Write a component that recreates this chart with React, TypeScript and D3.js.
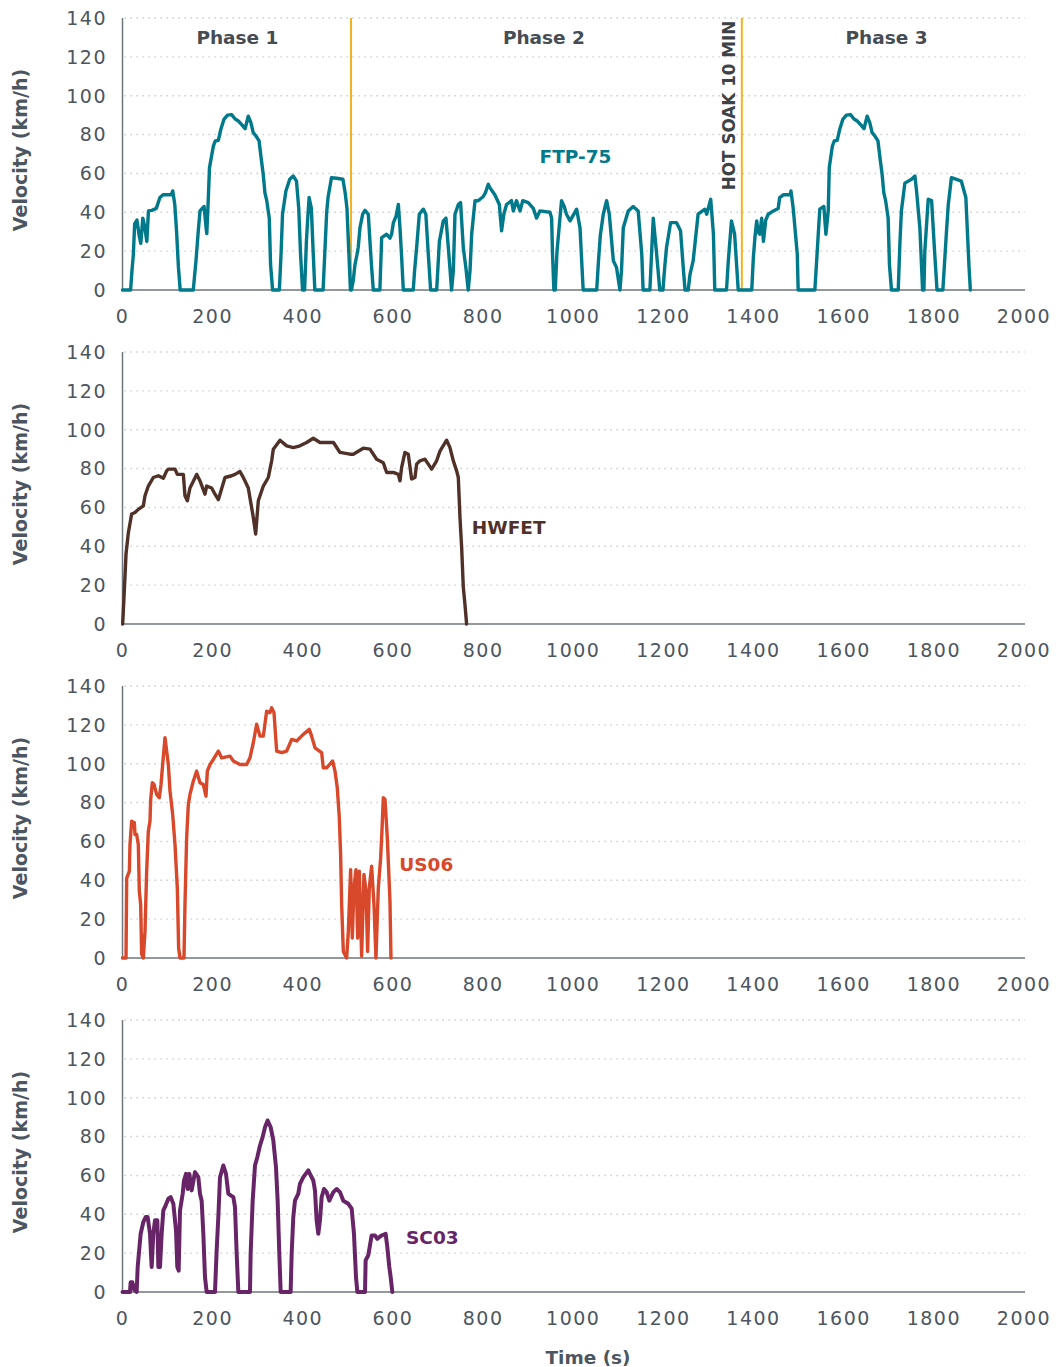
import { useEffect, useRef } from 'react'
import * as d3 from 'd3'

// time (s), velocity (km/h) pairs
const ftpPhase1: [number, number][] = [
  [0, 0], [18, 0], [21, 10], [24, 18], [27, 34], [32, 36], [37, 28], [40.6, 24], [45, 37], [49, 33], [54, 25],
  [57.6, 40.7], [65, 41], [75, 42], [83, 47.6], [90, 49], [100, 49], [108, 49], [111.5, 51], [116, 44],
  [120, 30], [124, 12], [128, 0], [157, 0], [163, 15], [168, 30], [172, 40.7], [177, 42], [181, 43],
  [185, 33], [187, 29], [190, 45], [193, 63], [201.5, 74], [206, 76.7], [212.6, 77], [218, 82.6],
  [225, 87.8], [233, 90], [242, 90.3], [250, 88], [257, 87], [265, 85], [272, 83], [279, 89.5], [285, 86],
  [290, 81], [297, 79], [303, 76.7], [308.6, 66], [312, 60], [316, 50], [320, 46], [325.6, 37],
  [328.5, 13], [333, 0], [348, 0], [352, 20], [355, 39], [362.5, 51], [371, 57], [378.7, 58.7], [386, 56],
  [391, 42], [395, 18.5], [399.4, 0], [404, 0], [408, 25], [411, 37], [414, 47.6], [419, 42], [422, 25],
  [426.7, 0], [445, 0], [449, 20], [453, 40], [456, 47.6], [463.6, 57.8], [475, 57.5], [489, 57],
  [494, 50], [498, 42], [502, 20], [505.7, 0],
]

const ftpPhase2: [number, number][] = [
  [508, 0], [512, 5], [515.7, 13], [520, 18], [523, 22], [526.8, 32], [532.8, 39], [538, 41], [545.3, 39],
  [549, 25], [552.7, 11.6], [556.4, 0], [571, 0], [575, 27], [586, 28.7], [593.4, 26.7], [597, 28.7],
  [601, 34.7], [607, 38], [612, 44], [615.6, 32], [619.3, 16.8], [623, 0], [645, 0], [648, 10],
  [652.6, 22], [658.5, 39], [667.4, 41.6], [673, 39], [678.4, 18.5], [683.6, 0], [697, 0], [703, 25],
  [711.7, 35.6], [717.6, 37], [722.8, 22], [726.5, 11], [730, 0], [734, 10], [737.6, 39], [745, 44],
  [750, 45], [756, 22], [762, 11], [767, 0], [771, 10], [774.6, 28.7], [782, 45.9], [789, 45.9],
  [793, 46.7], [800, 48], [805, 50], [811.5, 54.4], [815, 52.7], [826, 49], [836, 44], [841, 30.5],
  [846, 39], [852, 44], [863, 46], [867, 40.7], [874, 46], [882, 40.7], [888, 46], [900, 45],
  [911.4, 42], [918.7, 37], [926, 40.7], [948.3, 40], [952, 37], [954, 18.5], [957, 0], [960, 0],
  [964, 20], [974, 46], [980, 43], [985, 39], [993, 35.6], [1007.5, 41.6], [1015, 32], [1022, 0],
  [1052, 0], [1056, 15], [1060, 28], [1066.6, 39], [1074, 46], [1080, 39], [1089, 15], [1096, 11.6],
  [1103.6, 0], [1107, 10], [1111, 32], [1122, 40.7], [1133, 43], [1144, 40.7], [1152, 18.5], [1155, 0],
  [1170, 0], [1174, 20], [1177.5, 37], [1185, 18.5], [1192, 0], [1199, 0], [1203, 12], [1207, 22],
  [1216, 34.7], [1229, 34.7], [1238, 30.5], [1244, 11.6], [1248, 0], [1255, 0], [1259, 8], [1266, 15],
  [1277, 39], [1292, 41.6], [1296, 39], [1305, 46.7], [1311, 28.7], [1314, 0], [1340, 0], [1344, 15],
  [1351, 35.6], [1358, 28.7], [1366, 0], [1372, 0],
]

const ftpPhase3: [number, number][] = [
  [1396, 0], [1399.6, 16.8], [1403, 27], [1407, 35.6], [1410, 30], [1414, 28.7], [1418, 37], [1422, 25],
  [1427, 36], [1432.6, 39], [1444, 40.7], [1454.7, 42], [1458, 47.6], [1466, 49], [1481, 49], [1483, 51],
  [1488, 42], [1497, 18.5], [1499, 0], [1536, 0], [1540, 15], [1543.5, 28.7], [1547, 41.6], [1556, 43],
  [1560.5, 28.7], [1565.7, 40.7], [1568, 63], [1574.8, 74], [1579, 76.7], [1585.6, 77], [1591, 82.6],
  [1598, 87.8], [1606, 90], [1615, 90.3], [1623, 88], [1630, 87], [1638, 85], [1645, 83], [1652, 89.5],
  [1658, 86], [1663, 81], [1670, 79], [1676, 76.7], [1681.6, 66], [1685, 60], [1689, 50], [1693, 46],
  [1698.6, 37], [1701.5, 13], [1706, 0], [1721, 0], [1724.6, 23.6],
  [1728, 40.7], [1735.7, 55], [1750.5, 57], [1758, 58.7], [1761.6, 51], [1769, 32], [1775, 0],
  [1778, 0], [1780, 20], [1787.5, 46.7], [1795, 46], [1802, 18.5], [1807, 0], [1820, 0], [1824, 15],
  [1828, 30], [1832, 44], [1839, 57.8], [1861, 56], [1871, 47.6], [1878, 12], [1881, 0],
]

const hwfet: [number, number][] = [
  [0, 0], [0.4, 0], [3.3, 13.7], [7.8, 36], [13, 47], [20.3, 56.6], [27.7, 57.4], [35.1, 59], [46.2, 60.8],
  [49.9, 66], [57.3, 71], [68.4, 75.4], [79.5, 76.3], [90.6, 75], [98, 78.8], [101.7, 79.7], [116.5, 79.7],
  [121.6, 77], [135, 77], [138.6, 66], [143.8, 63.4], [149.7, 70], [164.5, 77], [171.9, 73.7], [183, 66.8],
  [186.7, 71], [197.8, 70], [205.2, 66.8], [212.6, 64], [227.4, 75.4], [242.2, 76.3], [249.6, 77],
  [260.6, 78.5], [268, 75.4], [279.1, 70], [290.2, 54.8], [295.4, 46.3], [301.3, 63.4], [312.4, 71],
  [323.5, 75.4], [330.9, 84], [334.6, 90], [349.4, 94.6], [364.2, 91.7], [379, 90.8], [393.7, 91.7],
  [408.5, 93.4], [423.3, 95.6], [438.1, 93.4], [460.3, 93.4], [468, 93.4], [482.5, 88.3], [504.6, 87.4],
  [512, 87.4], [534.2, 90.5], [549, 90], [563.8, 84.8], [578.6, 83], [586, 78], [600.8, 78], [611.9, 77],
  [615.6, 73.7], [619.3, 80.6], [626.6, 88.3], [634, 87.4], [641.4, 74.6], [648.8, 75.4], [652.5, 82.3],
  [659.9, 84], [671, 84.8], [678.4, 82.3], [685.8, 79.7], [696.9, 84], [704.3, 89], [719.1, 94.6],
  [726.5, 90.8], [733.9, 84], [741.3, 78.8], [745, 75.4], [748.7, 54.8], [752.4, 39.4], [756.1, 18.9],
  [759.8, 10], [763.4, 0],
]

const us06: [number, number][] = [
  [0, 0], [7.8, 0], [9.3, 41], [15.2, 44.7], [16.6, 58.4], [20.3, 70.4], [26.3, 69.6], [27.7, 63.6],
  [31.4, 63.6], [35.1, 58.4], [37.3, 34.4], [40.3, 27.5], [42.5, 2], [46.2, 0], [49.9, 13.7], [53.6, 44.7],
  [57.3, 65.3], [61, 70.4], [62.5, 81.6], [66.2, 90.2], [69.9, 89.3], [75.8, 84.2], [81.7, 82.5],
  [85.4, 89.3], [89.1, 99.6], [94.3, 113.4], [98, 106.5], [101.7, 99.6], [105.4, 85.9], [111.3, 73.9],
  [116.5, 58.4], [121.6, 36], [124.6, 5], [127.6, 0], [136.4, 0], [138.6, 27.5], [142.3, 61.8], [146, 79],
  [149.7, 84.2], [157.1, 91], [164.5, 96.2], [171.9, 90.2], [179.3, 89.3], [185.2, 83.3], [188.2, 96.2],
  [194.1, 99.6], [201.5, 102.2], [212.6, 106.5], [220, 103], [238.5, 103.9], [245.9, 101.4],
  [260.6, 99.6], [275.4, 99.6], [282.8, 103], [290.2, 110.8], [297.6, 120.3], [305, 114.2],
  [312.4, 114.2], [319.8, 127], [327.2, 126.3], [330.9, 128.8], [336.1, 126.3], [342, 106.5],
  [353.1, 105.7], [364.2, 106.5], [375.3, 112.5], [386.4, 111.7], [401.1, 115.1], [414.4, 117.7],
  [419.6, 114.2], [427, 108.2], [441.8, 105.7], [445.5, 97.9], [452.9, 97.9], [466.2, 101.4],
  [471.4, 96.2], [476.5, 87.6], [481, 72.2], [483.9, 53.3], [486.2, 27.5], [489.9, 3.4], [497.3, 0],
  [501, 13.7], [506.1, 45.5], [509.8, 10.3], [513.5, 36], [518, 45.5], [521.7, 10.3], [525.4, 44.7],
  [530.5, 1], [535.7, 43], [540.2, 34.4], [543.8, 3.4], [547.5, 36], [552.7, 47.2], [557.9, 27.5],
  [562.3, 0], [567.5, 36], [572.7, 51.5], [575.6, 65.3], [578.6, 82.5], [582.3, 81.6], [587.5, 61.8],
  [593.4, 29.2], [595.6, 0],
]

const sc03: [number, number][] = [
  [0, 0], [16.6, 0], [18.1, 5], [21.8, 5], [26.3, 1], [31.4, 0], [33.7, 12.9], [37.3, 22.3], [40.3, 30],
  [46.2, 36], [51.4, 38.6], [55.8, 38.6], [61, 30], [64.7, 12.9], [68.4, 30], [72.1, 36.9], [77.3, 36.9],
  [79.5, 12.9], [83.2, 12.9], [86.9, 30], [90.6, 42], [95.8, 44.6], [101.7, 48], [106.9, 48.8],
  [112.8, 45.4], [118.7, 31.7], [121.6, 12.9], [124.6, 11], [127.6, 42], [133.5, 50.6], [136.4, 57.4],
  [140.9, 60.8], [144.6, 53], [148.3, 60.8], [153.4, 52.3], [160.8, 61.7], [168.2, 59.1], [171.9, 50.6],
  [175.6, 47], [179.3, 30], [183, 7.7], [186.7, 0], [205.2, 0], [208.9, 21.4], [212.6, 38.6],
  [216.3, 59.1], [223.7, 65.1], [229.6, 60.8], [234.8, 50.6], [240, 49.7], [245.9, 48.8], [249.6, 43.7],
  [253.3, 19.7], [257, 0], [282.8, 0], [284.3, 19.7], [288.8, 47], [293.9, 65.1], [299.1, 69.4],
  [305, 75.4], [310.9, 79.7], [316.1, 84.8], [322, 88.3], [328.7, 84.8], [334.6, 78], [340.5, 64.3],
  [344.2, 47], [347.9, 19.7], [350.9, 0], [373, 0], [375.3, 19.7], [378.9, 38.6], [382.6, 47], [390, 50.6],
  [393.7, 55.7], [401.1, 59.1], [412.2, 62.6], [415.9, 60.8], [423.3, 57.4], [427, 52.3], [430.7, 36.9],
  [434.4, 30], [438.1, 36.9], [441.8, 48.8], [447, 53], [452.9, 51.4], [458.8, 47], [467.7, 51.4],
  [475.1, 53], [482.5, 51.4], [489.9, 47], [501, 45.4], [508.4, 42.9], [513.5, 30], [518, 7.7], [521, 0],
  [538, 0], [539.4, 16.3], [545.3, 18.9], [549, 24], [552.7, 29.1], [560.1, 29.1], [565.3, 27.4],
  [574.9, 29.1], [583.8, 30], [587.5, 23.1], [591.9, 12.9], [594.9, 7.7], [598.6, 0],
]

const timeTicks = [0, 200, 400, 600, 800, 1000, 1200, 1400, 1600, 1800, 2000]
const velocityTicks = [0, 20, 40, 60, 80, 100, 120, 140]
const phaseBreaks = [507, 1374]
const phaseLabels: [string, number][] = [['Phase 1', 255], ['Phase 2', 935], ['Phase 3', 1695]]

const cycles = [
  { name: 'FTP-75', data: [...ftpPhase1, ...ftpPhase2, ...ftpPhase3], color: '#00798b', labelAt: [1005, 69], anchor: 'middle', width: 3.4 },
  { name: 'HWFET', data: hwfet, color: '#4f3128', labelAt: [775, 50], anchor: 'start', width: 3.4 },
  { name: 'US06', data: us06, color: '#d8482a', labelAt: [614, 48], anchor: 'start', width: 3.4 },
  { name: 'SC03', data: sc03, color: '#672567', labelAt: [629, 28], anchor: 'start', width: 4 },
]

const FONT = '"DejaVu Sans", sans-serif'
const TEXT = '#4c5660'

const App = () => {
  const ref = useRef<SVGSVGElement | null>(null)

  useEffect(() => {
    const svg = d3.select(ref.current)
    svg.selectAll('*').remove()

    const x = d3.scaleLinear().domain([0, 2000]).range([122.5, 1024])
    const panelTop = [18, 352, 686, 1020]
    const plotH = 272

    cycles.forEach((c, i) => {
      const top = panelTop[i]
      const y = d3.scaleLinear().domain([0, 140]).range([top + plotH, top])
      const g = svg.append('g')

      // dotted gridlines
      g.selectAll('.grid')
        .data(velocityTicks.filter(d => d > 0))
        .enter().append('line')
        .attr('x1', x(0) + 2).attr('x2', x(2000) + 1)
        .attr('y1', d => y(d)).attr('y2', d => y(d))
        .attr('stroke', '#c9c9c9')
        .attr('stroke-width', 1.4)
        .attr('stroke-dasharray', '1.4,4.6')

      // y axis labels
      g.selectAll('.ylab')
        .data(velocityTicks)
        .enter().append('text')
        .attr('x', 107).attr('y', d => y(d))
        .attr('dy', '0.36em')
        .attr('text-anchor', 'end')
        .attr('font-family', FONT).attr('font-size', 19)
        .attr('letter-spacing', 1.5)
        .attr('fill', TEXT)
        .text(d => d)

      // x axis labels
      g.selectAll('.xlab')
        .data(timeTicks)
        .enter().append('text')
        .attr('x', d => x(d)).attr('y', y(0) + 26)
        .attr('dy', '0.36em')
        .attr('text-anchor', 'middle')
        .attr('font-family', FONT).attr('font-size', 19)
        .attr('letter-spacing', 1.5)
        .attr('fill', TEXT)
        .text(d => d)

      // y title
      g.append('text')
        .attr('transform', `translate(20,${top + plotH / 2 - 4}) rotate(-90)`)
        .attr('dy', '0.36em')
        .attr('text-anchor', 'middle')
        .attr('font-family', FONT).attr('font-size', 19).attr('font-weight', 'bold')
        .attr('fill', TEXT)
        .text('Velocity (km/h)')

      if (i === 0) {
        g.selectAll('.phase')
          .data(phaseBreaks)
          .enter().append('line')
          .attr('x1', d => x(d)).attr('x2', d => x(d))
          .attr('y1', y(140)).attr('y2', y(0))
          .attr('stroke', '#f4b120').attr('stroke-width', 2)
        g.selectAll('.plab')
          .data(phaseLabels)
          .enter().append('text')
          .attr('x', d => x(d[1])).attr('y', y(130.2))
          .attr('dy', '0.36em')
          .attr('text-anchor', 'middle')
          .attr('font-family', FONT).attr('font-size', 18.5).attr('font-weight', 'bold')
          .attr('fill', '#464c53')
          .text(d => d[0])
        g.append('text')
          .attr('transform', `translate(${x(1346)},${y(95)}) rotate(-90)`)
          .attr('dy', '0.36em')
          .attr('text-anchor', 'middle')
          .attr('font-family', FONT).attr('font-size', 16.8).attr('font-weight', 'bold')
          .attr('fill', '#3d4247')
          .text('HOT SOAK 10 MIN')
      }

      // axes lines
      g.append('line')
        .attr('x1', x(0)).attr('x2', x(0))
        .attr('y1', y(140)).attr('y2', y(0))
        .attr('stroke', '#6f767c').attr('stroke-width', 1.5)
      g.append('line')
        .attr('x1', x(0)).attr('x2', x(2000) + 1)
        .attr('y1', y(0)).attr('y2', y(0))
        .attr('stroke', '#6f767c').attr('stroke-width', 1.5)

      const line = d3.line<[number, number]>()
        .x(d => x(d[0]))
        .y(d => y(d[1]))
      g.append('path')
        .datum(c.data)
        .attr('d', line)
        .attr('fill', 'none')
        .attr('stroke', c.color)
        .attr('stroke-width', c.width)
        .attr('stroke-linejoin', 'round')
        .attr('stroke-linecap', 'round')

      g.append('text')
        .attr('x', x(c.labelAt[0])).attr('y', y(c.labelAt[1]))
        .attr('dy', '0.36em')
        .attr('text-anchor', c.anchor)
        .attr('font-family', FONT).attr('font-size', 18.5).attr('font-weight', 'bold')
        .attr('fill', c.color)
        .text(c.name)
    })

    svg.append('text')
      .attr('x', 588).attr('y', 1357)
      .attr('dy', '0.36em')
      .attr('text-anchor', 'middle')
      .attr('font-family', FONT).attr('font-size', 18.5).attr('font-weight', 'bold')
      .attr('fill', TEXT)
      .text('Time (s)')
  }, [])

  return (
    <svg ref={ref} width={1059} height={1367}
      style={{ position: 'absolute', left: 0, top: 0, background: '#fff' }} />
  )
}

export default App
